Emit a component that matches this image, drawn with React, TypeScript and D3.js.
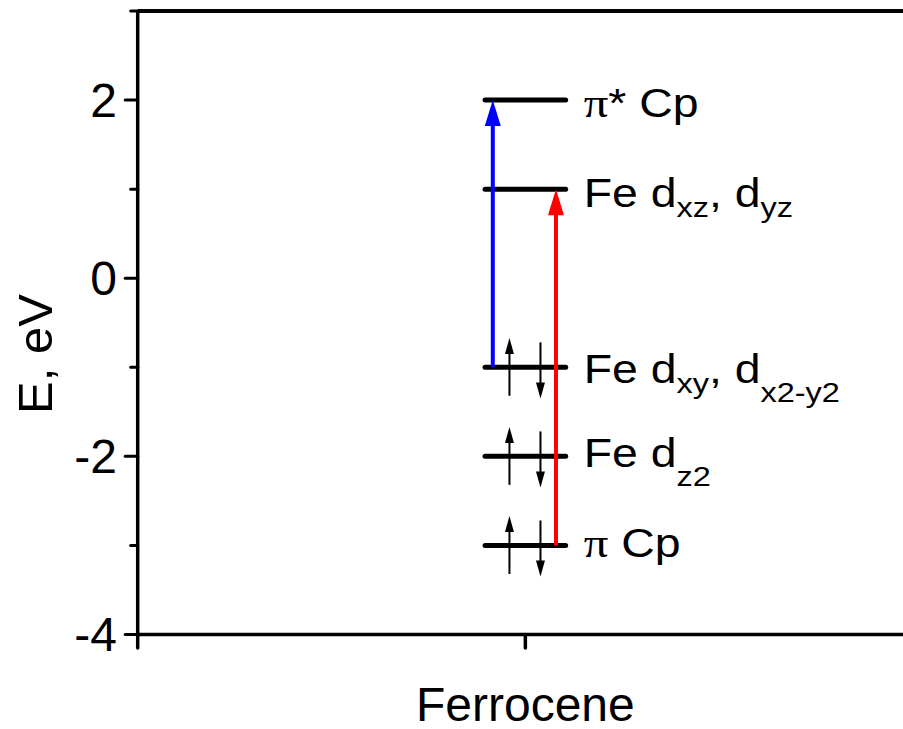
import React from "react";
import * as d3 from "d3";

// ---- data ----
const categories = ["Ferrocene"];
const levelEnergies = [2, 1, -1, -2, -3];
const levelLabels: [string, string][][] = [
  [["π", "pi"], ["* Cp", "n"]],
  [["Fe d", "n"], ["xz", "sub"], [", d", "n"], ["yz", "sub"]],
  [["Fe d", "n"], ["xy", "sub"], [", d", "n"], ["x2-y2", "sub2"]],
  [["Fe d", "n"], ["z2", "sub2"]],
  [["π", "pi"], [" Cp", "n"]],
];
const levelOccupied = [false, false, true, true, true];
const transitionFrom = [-1, -3];
const transitionTo = [2, 1];
const yMajorTicks = [-4, -2, 0, 2];
const yMinorTicks = [-3, -1, 1, 3];

// ---- layout ----
const W = 903;
const H = 729;
const left = 137.7;
const right = 913;
const top = 11;
const bottom = 634.5;
const FONT = "'Liberation Sans', Arial, Helvetica, sans-serif";

const y = d3.scaleLinear().domain([-4, 3]).range([bottom, top]);
const x = d3.scaleLinear().domain([0, 2]).range([left, right]);
const xCat = (i: number) => x(i + 1);

const levelHalf = 0.104;
const transitionX = [-0.084, 0.079];
const transitionColors = ["#0000ff", "#ff0000"];
const spinUpX = -0.041;
const spinDownX = 0.039;
const spinUp = [-0.32, 0.33];
const spinDown = [0.28, -0.35];
const labelBaseline = [16.5, 17.5, 16, 11, 12];
const labelStretch = 1.16;

function arrow(x0: number, y0: number, y1: number, headLen: number, headW: number) {
  const dir = y1 < y0 ? 1 : -1;
  const base = y1 + dir * headLen;
  return {
    line: [x0, y0, x0, base - dir],
    head: `M${x0},${y1} L${x0 - headW / 2},${base} L${x0 + headW / 2},${base} Z`,
  };
}

export default function App() {
  return (
    <svg
      width={W}
      height={H}
      style={{ position: "absolute", left: 0, top: 0, background: "#fff" }}
      fontFamily={FONT}
    >
      {/* energy levels */}
      {levelEnergies.map((e, i) => (
        <line
          key={"lv" + i}
          x1={x(1 - levelHalf)}
          x2={x(1 + levelHalf)}
          y1={y(e)}
          y2={y(e)}
          stroke="#000"
          strokeWidth={5}
          strokeLinecap="round"
        />
      ))}
      {/* spin arrows */}
      {levelEnergies.map((e, i) => {
        if (!levelOccupied[i]) return null;
        const xu = x(1 + spinUpX);
        const xd = x(1 + spinDownX);
        const a = arrow(xu, y(e + spinUp[0]), y(e + spinUp[1]), 16, 9);
        const b = arrow(xd, y(e + spinDown[0]), y(e + spinDown[1]), 16, 9);
        return (
          <g key={"sp" + i}>
            <line x1={a.line[0]} y1={a.line[1]} x2={a.line[2]} y2={a.line[3]} stroke="#000" strokeWidth={2} />
            <path d={a.head} fill="#000" />
            <line x1={b.line[0]} y1={b.line[1]} x2={b.line[2]} y2={b.line[3]} stroke="#000" strokeWidth={2} />
            <path d={b.head} fill="#000" />
          </g>
        );
      })}
      {/* transitions */}
      {transitionFrom.map((f, i) => {
        const xx = x(1 + transitionX[i]);
        const a = arrow(xx, y(f), y(transitionTo[i]), 26, 16);
        return (
          <g key={"tr" + i}>
            <line x1={a.line[0]} y1={a.line[1]} x2={a.line[2]} y2={a.line[3]} stroke={transitionColors[i]} strokeWidth={4} />
            <path d={a.head} fill={transitionColors[i]} />
          </g>
        );
      })}
      {/* level labels */}
      {levelEnergies.map((e, i) => (
        <g
          key={"lb" + i}
          transform={`translate(${x(1 + levelHalf) + 18}, ${y(e) + labelBaseline[i]}) scale(${labelStretch}, 1)`}
        >
          <text x={0} y={0} fontSize={40} fill="#000">
            {levelLabels[i].map(([t, k], j) => {
              if (k === "pi")
                return (
                  <tspan key={j} fontFamily="'Liberation Serif', 'Times New Roman', serif" fontSize={42}>
                    {t}
                  </tspan>
                );
              if (k === "sub")
                return (
                  <tspan key={j} fontSize={28} dy={10}>
                    {t}
                  </tspan>
                );
              if (k === "sub2")
                return (
                  <tspan key={j} fontSize={28} dy={19}>
                    {t}
                  </tspan>
                );
              const prev = j > 0 ? levelLabels[i][j - 1][1] : "n";
              const back = prev === "sub" ? -10 : prev === "sub2" ? -19 : 0;
              return (
                <tspan key={j} dy={back}>
                  {t}
                </tspan>
              );
            })}
          </text>
        </g>
      ))}
      {/* axes frame */}
      <line x1={left} x2={right} y1={top} y2={top} stroke="#000" strokeWidth={4} />
      <line x1={left} x2={left} y1={top} y2={bottom} stroke="#000" strokeWidth={3.5} />
      <line x1={left - 1.7} x2={right} y1={bottom} y2={bottom} stroke="#000" strokeWidth={3.5} />
      {yMajorTicks.map((t) => (
        <g key={"ym" + t}>
          <line x1={left - 12.5} x2={left} y1={y(t)} y2={y(t)} stroke="#000" strokeWidth={3} strokeLinecap="round" />
          <text x={117} y={y(t)} dy={16.5} textAnchor="end" fontSize={48} fill="#000">
            {d3.format("d")(t).replace("−", "-")}
          </text>
        </g>
      ))}
      {yMinorTicks.map((t) => (
        <line key={"yn" + t} x1={left - 7} x2={left} y1={y(t)} y2={y(t)} stroke="#000" strokeWidth={3} strokeLinecap="round" />
      ))}
      {[0, 1, 2].map((t) => (
        <line key={"xt" + t} x1={x(t)} x2={x(t)} y1={bottom} y2={bottom + 13.5} stroke="#000" strokeWidth={3.5} strokeLinecap="round" />
      ))}
      {categories.map((c, i) => (
        <text key={c} x={xCat(i)} y={721} textAnchor="middle" fontSize={48} fill="#000">
          {c}
        </text>
      ))}
      <text
        transform={`translate(51.5, 354) rotate(-90)`}
        textAnchor="middle"
        fontSize={49}
        fill="#000"
      >
        E, eV
      </text>
    </svg>
  );
}
